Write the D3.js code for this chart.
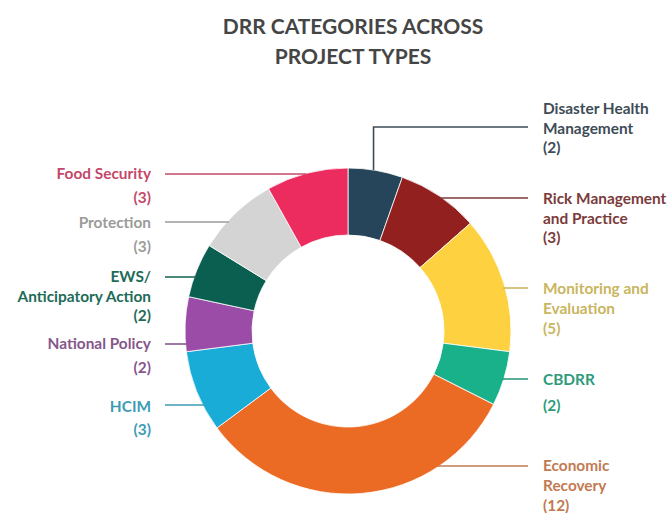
<!DOCTYPE html>
<html>
<head>
<meta charset="utf-8">
<script src="https://cdn.jsdelivr.net/npm/d3@7"></script>
<style>
  body { margin: 0; background: #fff; }
  text { font-family: Lato, "Open Sans", sans-serif; font-weight: 700; }
</style>
</head>
<body>
<div id="container"></div>
<script>
// data, clockwise from 12 o'clock
const categories = ["Disaster Health Management", "Rick Management and Practice", "Monitoring and Evaluation",
  "CBDRR", "Economic Recovery", "HCIM", "National Policy", "EWS/ Anticipatory Action", "Protection", "Food Security"];
const values = [2, 3, 5, 2, 12, 3, 2, 2, 3, 3];
const sliceColors = ["#26455a", "#92201f", "#fdd13f", "#19b18a", "#ec6b24", "#18acd6", "#9a4ca6", "#0a5f50", "#d4d4d4", "#ec2b5e"];
const labelColors = ["#3e4c57", "#7b3b3b", "#c9b660", "#2e9a7c", "#c27a52", "#3d9bb5", "#86578c", "#1e6b58", "#9b9b9b", "#c4486a"];

// label layout (annotation only)
const labelLayout = [
  {side: "right", lineY: 127, textY: 108, lines: ["Disaster Health", "Management"], step: 19.5, gap: 19.5, elbow: true},
  {side: "right", lineY: 198, textY: 198, lines: ["Rick Management", "and Practice"], step: 19.5, gap: 19.5},
  {side: "right", lineY: 288, textY: 288, lines: ["Monitoring and", "Evaluation"], step: 20, gap: 20},
  {side: "right", lineY: 379, textY: 379, lines: ["CBDRR"], step: 20, gap: 26},
  {side: "right", lineY: 466, textY: 465, lines: ["Economic", "Recovery"], step: 20, gap: 20},
  {side: "left", lineY: 405, textY: 406, lines: ["HCIM"], step: 20, gap: 23},
  {side: "left", lineY: 344, textY: 343, lines: ["National Policy"], step: 20, gap: 24},
  {side: "left", lineY: 277, textY: 276, lines: ["EWS/", "Anticipatory Action"], step: 20, gap: 19},
  {side: "left", lineY: 222, textY: 222, lines: ["Protection"], step: 20, gap: 24},
  {side: "left", lineY: 174, textY: 173, lines: ["Food Security"], step: 20, gap: 24}
];

const w = 668, h = 513;
const cx = 348, cy = 331, outerR = 163, innerR = 96;

const svg = d3.select("#container").append("svg").attr("width", w).attr("height", h);

svg.append("text").attr("x", 353).attr("y", 25).attr("text-anchor", "middle").attr("dominant-baseline", "central")
  .attr("fill", "#454545").style("font-size", "21px").text("DRR CATEGORIES ACROSS");
svg.append("text").attr("x", 353).attr("y", 55).attr("text-anchor", "middle").attr("dominant-baseline", "central")
  .attr("fill", "#454545").style("font-size", "21px").text("PROJECT TYPES");

const pie = d3.pie().sort(null).value(d => d)(values);
const arc = d3.arc().innerRadius(innerR).outerRadius(outerR);

const g = svg.append("g").attr("transform", `translate(${cx}, ${cy})`);
g.selectAll("path")
  .data(pie)
  .enter()
  .append("path")
    .attr("d", arc)
    .attr("fill", (d, i) => sliceColors[i])
    .attr("stroke", "#fff")
    .attr("stroke-width", 0.8);

// leaders and labels
const edgeX = (y, side) => {
  const dy = y - cy;
  const dx = Math.sqrt(Math.max(0, outerR * outerR - dy * dy));
  return side === "right" ? cx + dx : cx - dx;
};

labelLayout.forEach((l, i) => {
  const col = labelColors[i];
  let path;
  if (l.side === "right") {
    if (l.elbow) {
      const a = (pie[i].startAngle + pie[i].endAngle) / 2;
      const vx = cx + outerR * Math.sin(a) - 2;
      const vy = cy - Math.sqrt(outerR * outerR - (vx - cx) * (vx - cx));
      path = `M${vx},${vy}V${l.lineY}H528`;
    } else {
      path = `M${edgeX(l.lineY, "right") - 2},${l.lineY}H528`;
    }
  } else {
    path = `M165,${l.lineY}H${edgeX(l.lineY, "left") + 2}`;
  }
  svg.append("path").attr("d", path).attr("fill", "none").attr("stroke", col).attr("stroke-width", 1.6);

  const tx = l.side === "right" ? 543 : 151;
  const anchor = l.side === "right" ? "start" : "end";
  const t = svg.append("g").attr("fill", col).style("font-size", "15.4px");
  l.lines.forEach((s, j) => {
    t.append("text").attr("x", tx).attr("y", l.textY + j * l.step)
      .attr("text-anchor", anchor).attr("dominant-baseline", "central").text(s);
  });
  t.append("text").attr("x", tx).attr("y", l.textY + (l.lines.length - 1) * l.step + l.gap)
    .attr("text-anchor", anchor).attr("dominant-baseline", "central").text(`(${values[i]})`);
});
</script>
</body>
</html>
